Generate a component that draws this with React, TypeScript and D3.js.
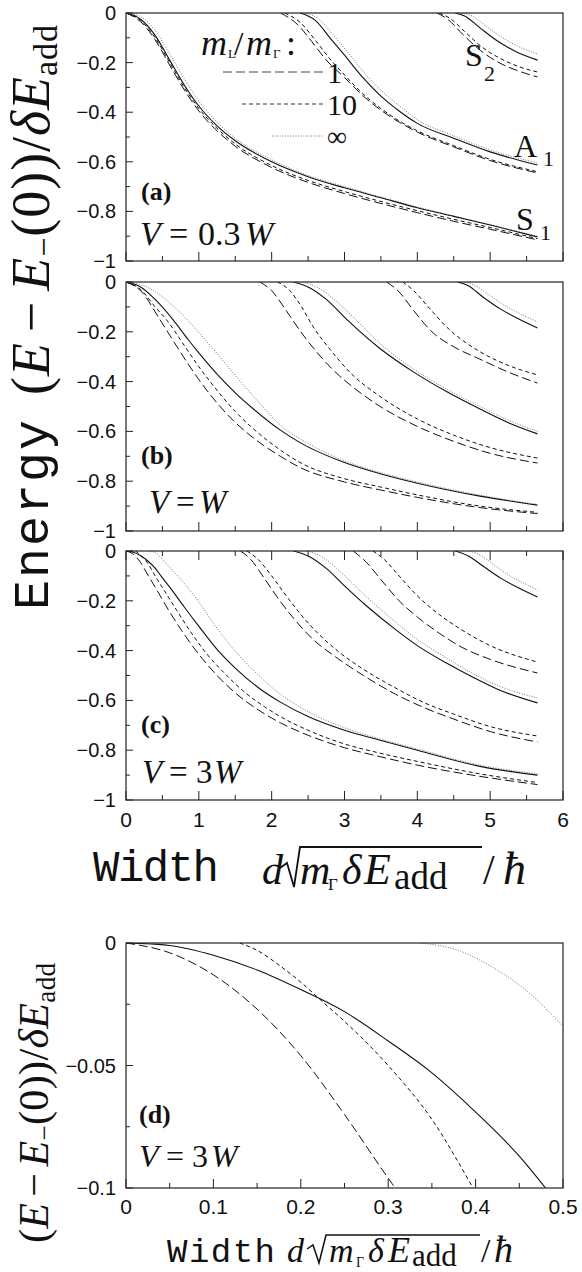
import React from "react";
import * as d3 from "d3";

type Pt = [number, number];

// ---------------- Panel (a): V = 0.3W ----------------
const aS1Solid: Pt[] = [[0,0],[0.2,-0.025],[0.4,-0.09],[0.6,-0.19],[0.8,-0.29],[1.0,-0.375],[1.25,-0.455],[1.5,-0.515],[2.0,-0.6],[2.5,-0.66],[3.0,-0.705],[3.5,-0.745],[4.0,-0.785],[4.5,-0.82],[5.0,-0.855],[5.65,-0.903]];
const aS1Dot: Pt[] = [[0,0],[0.2,-0.015],[0.4,-0.07],[0.6,-0.165],[0.8,-0.265],[1.0,-0.355],[1.25,-0.44],[1.5,-0.505],[2.0,-0.592],[2.5,-0.655],[3.0,-0.7],[3.5,-0.742],[4.0,-0.782],[4.5,-0.818],[5.0,-0.853],[5.65,-0.9]];
const aS1Short: Pt[] = [[0,0],[0.2,-0.03],[0.4,-0.1],[0.6,-0.2],[0.8,-0.3],[1.0,-0.385],[1.25,-0.465],[1.5,-0.528],[2.0,-0.615],[2.5,-0.675],[3.0,-0.72],[3.5,-0.76],[4.0,-0.797],[4.5,-0.832],[5.0,-0.865],[5.65,-0.91]];
const aS1Long: Pt[] = [[0,0],[0.2,-0.035],[0.4,-0.108],[0.6,-0.21],[0.8,-0.31],[1.0,-0.395],[1.25,-0.475],[1.5,-0.537],[2.0,-0.623],[2.5,-0.683],[3.0,-0.728],[3.5,-0.768],[4.0,-0.805],[4.5,-0.84],[5.0,-0.872],[5.65,-0.915]];
const aA1Solid: Pt[] = [[2.39,0],[2.6,-0.03],[2.8,-0.1],[3.0,-0.17],[3.25,-0.26],[3.5,-0.335],[3.75,-0.395],[4.0,-0.445],[4.5,-0.505],[5.0,-0.56],[5.65,-0.613]];
const aA1Dot: Pt[] = [[2.45,0],[2.65,-0.025],[2.85,-0.09],[3.05,-0.16],[3.3,-0.25],[3.55,-0.325],[3.8,-0.385],[4.0,-0.43],[4.5,-0.495],[5.0,-0.552],[5.65,-0.605]];
const aA1Short: Pt[] = [[2.18,0],[2.4,-0.04],[2.6,-0.11],[2.8,-0.185],[3.0,-0.25],[3.25,-0.325],[3.5,-0.385],[3.75,-0.435],[4.0,-0.475],[4.5,-0.535],[5.0,-0.59],[5.65,-0.64]];
const aA1Long: Pt[] = [[2.12,0],[2.35,-0.045],[2.55,-0.115],[2.75,-0.19],[3.0,-0.26],[3.25,-0.333],[3.5,-0.392],[3.75,-0.44],[4.0,-0.48],[4.5,-0.54],[5.0,-0.595],[5.65,-0.645]];
const aS2Solid: Pt[] = [[4.52,0],[4.65,-0.012],[4.86,-0.06],[5.1,-0.113],[5.35,-0.155],[5.65,-0.19]];
const aS2Dot: Pt[] = [[4.6,0],[4.75,-0.012],[4.95,-0.055],[5.2,-0.105],[5.4,-0.137],[5.65,-0.165]];
const aS2Short: Pt[] = [[4.3,0],[4.45,-0.022],[4.65,-0.075],[4.9,-0.14],[5.15,-0.185],[5.4,-0.217],[5.65,-0.238]];
const aS2Long: Pt[] = [[4.27,0],[4.42,-0.026],[4.62,-0.085],[4.87,-0.152],[5.12,-0.2],[5.4,-0.235],[5.65,-0.258]];

// ---------------- Panel (b): V = W ----------------
const bS1Solid: Pt[] = [[0,0],[0.2,-0.02],[0.4,-0.07],[0.65,-0.153],[0.85,-0.23],[1.0,-0.285],[1.25,-0.37],[1.5,-0.445],[1.75,-0.51],[2.12,-0.595],[2.39,-0.645],[3.0,-0.725],[3.49,-0.77],[4.0,-0.808],[4.86,-0.86],[5.65,-0.896]];
const bS1Dot: Pt[] = [[0,0],[0.3,-0.022],[0.5,-0.06],[0.7,-0.11],[0.9,-0.17],[1.2,-0.27],[1.5,-0.375],[1.8,-0.475],[2.12,-0.575],[2.5,-0.648],[3.0,-0.718],[3.49,-0.765],[4.0,-0.803],[4.86,-0.856],[5.65,-0.893]];
const bS1Short: Pt[] = [[0,0],[0.2,-0.03],[0.4,-0.1],[0.56,-0.153],[0.8,-0.255],[1.0,-0.34],[1.25,-0.435],[1.5,-0.52],[1.75,-0.59],[2.12,-0.675],[2.39,-0.725],[3.0,-0.79],[3.49,-0.823],[4.0,-0.855],[4.86,-0.9],[5.65,-0.925]];
const bS1Long: Pt[] = [[0,0],[0.2,-0.035],[0.47,-0.153],[0.7,-0.26],[0.9,-0.35],[1.15,-0.45],[1.4,-0.535],[1.7,-0.615],[2.12,-0.7],[2.39,-0.745],[3.0,-0.803],[3.49,-0.835],[4.0,-0.865],[4.86,-0.906],[5.65,-0.93]];
const bA1Solid: Pt[] = [[2.3,0],[2.5,-0.02],[2.75,-0.07],[3.03,-0.15],[3.5,-0.27],[3.94,-0.36],[4.4,-0.44],[4.86,-0.51],[5.25,-0.565],[5.65,-0.61]];
const bA1Dot: Pt[] = [[2.42,0],[2.65,-0.025],[2.9,-0.08],[3.15,-0.15],[3.5,-0.25],[3.94,-0.348],[4.4,-0.43],[4.86,-0.5],[5.25,-0.555],[5.65,-0.6]];
const bA1Short: Pt[] = [[2.08,0],[2.25,-0.035],[2.4,-0.095],[2.57,-0.18],[2.8,-0.27],[3.1,-0.37],[3.49,-0.46],[4.0,-0.55],[4.5,-0.615],[5.0,-0.665],[5.65,-0.707]];
const bA1Long: Pt[] = [[1.84,0],[2.0,-0.035],[2.2,-0.115],[2.4,-0.2],[2.6,-0.275],[2.85,-0.355],[3.15,-0.43],[3.49,-0.5],[4.0,-0.58],[4.5,-0.64],[5.0,-0.688],[5.65,-0.727]];
const bS2Solid: Pt[] = [[4.55,0],[4.7,-0.015],[4.9,-0.06],[5.15,-0.11],[5.4,-0.15],[5.65,-0.185]];
const bS2Dot: Pt[] = [[4.65,0],[4.8,-0.015],[5.0,-0.055],[5.25,-0.103],[5.45,-0.133],[5.65,-0.16]];
const bS2Short: Pt[] = [[3.8,0],[3.95,-0.035],[4.15,-0.1],[4.4,-0.18],[4.86,-0.28],[5.25,-0.335],[5.65,-0.373]];
const bS2Long: Pt[] = [[3.58,0],[3.75,-0.04],[3.95,-0.115],[4.2,-0.2],[4.5,-0.26],[4.86,-0.31],[5.25,-0.362],[5.65,-0.406]];

// ---------------- Panel (c): V = 3W ----------------
const cS1Solid: Pt[] = [[0,0],[0.1,-0.005],[0.2,-0.019],[0.3,-0.04],[0.4,-0.069],[0.48,-0.1],[0.6,-0.145],[0.8,-0.225],[1.02,-0.31],[1.25,-0.395],[1.5,-0.47],[1.8,-0.545],[2.12,-0.607],[2.5,-0.665],[3.0,-0.72],[3.49,-0.76],[4.0,-0.8],[4.86,-0.865],[5.65,-0.9]];
const cS1Dot: Pt[] = [[0.336,0],[0.42,-0.01],[0.5,-0.034],[0.6,-0.065],[0.8,-0.13],[1.0,-0.205],[1.2,-0.29],[1.45,-0.385],[1.75,-0.48],[2.12,-0.575],[2.5,-0.645],[3.0,-0.71],[3.49,-0.755],[4.0,-0.795],[4.86,-0.86],[5.65,-0.895]];
const cS1Short: Pt[] = [[0.13,0],[0.2,-0.016],[0.3,-0.05],[0.4,-0.1],[0.55,-0.17],[0.7,-0.24],[0.9,-0.33],[1.1,-0.41],[1.35,-0.49],[1.6,-0.56],[1.9,-0.625],[2.12,-0.665],[2.5,-0.72],[3.0,-0.775],[3.49,-0.812],[4.0,-0.845],[4.86,-0.895],[5.65,-0.93]];
const cS1Long: Pt[] = [[0,0],[0.1,-0.013],[0.2,-0.046],[0.308,-0.1],[0.45,-0.17],[0.6,-0.245],[0.8,-0.335],[1.0,-0.415],[1.25,-0.5],[1.5,-0.57],[1.8,-0.635],[2.12,-0.69],[2.5,-0.74],[3.0,-0.79],[3.49,-0.826],[4.0,-0.86],[4.86,-0.905],[5.65,-0.938]];
const cA1Solid: Pt[] = [[2.3,0],[2.5,-0.02],[2.75,-0.07],[3.0,-0.14],[3.3,-0.22],[3.72,-0.32],[4.0,-0.38],[4.4,-0.45],[4.75,-0.505],[5.1,-0.555],[5.65,-0.61]];
const cA1Dot: Pt[] = [[2.49,0],[2.7,-0.025],[2.95,-0.085],[3.25,-0.17],[3.72,-0.29],[4.0,-0.355],[4.4,-0.43],[4.75,-0.49],[5.1,-0.54],[5.65,-0.59]];
const cA1Short: Pt[] = [[1.66,0],[1.8,-0.03],[2.0,-0.1],[2.2,-0.18],[2.4,-0.255],[2.6,-0.32],[2.9,-0.4],[3.26,-0.475],[3.7,-0.55],[4.1,-0.61],[4.5,-0.655],[5.0,-0.705],[5.65,-0.743]];
const cA1Long: Pt[] = [[1.57,0],[1.7,-0.03],[1.9,-0.11],[2.1,-0.195],[2.3,-0.27],[2.55,-0.35],[2.9,-0.43],[3.26,-0.5],[3.7,-0.575],[4.1,-0.63],[4.5,-0.675],[5.0,-0.725],[5.65,-0.767]];
const cS2Short: Pt[] = [[3.39,0],[3.55,-0.035],[3.75,-0.1],[4.0,-0.18],[4.3,-0.255],[4.6,-0.315],[5.0,-0.38],[5.65,-0.446]];
const cS2Long: Pt[] = [[3.12,0],[3.3,-0.045],[3.5,-0.115],[3.75,-0.2],[4.0,-0.265],[4.3,-0.33],[4.6,-0.385],[5.0,-0.435],[5.65,-0.49]];
const cS2Solid: Pt[] = [[4.52,0],[4.7,-0.02],[4.9,-0.06],[5.15,-0.11],[5.4,-0.15],[5.65,-0.185]];
const cS2Dot: Pt[] = [[4.72,0],[4.88,-0.02],[5.05,-0.055],[5.3,-0.105],[5.5,-0.135],[5.65,-0.157]];

// ---------------- Panel (d): V = 3W, zoom ----------------
const dSolid: Pt[] = [[0,0],[0.05,-0.001],[0.1,-0.005],[0.15,-0.011],[0.2,-0.019],[0.25,-0.028],[0.3,-0.04],[0.35,-0.053],[0.4,-0.069],[0.45,-0.087],[0.48,-0.1]];
const dShort: Pt[] = [[0.13,0],[0.15,-0.003],[0.175,-0.009],[0.2,-0.016],[0.225,-0.024],[0.25,-0.032],[0.3,-0.05],[0.35,-0.072],[0.397,-0.1]];
const dLong: Pt[] = [[0,0],[0.05,-0.004],[0.1,-0.013],[0.15,-0.027],[0.2,-0.046],[0.25,-0.07],[0.3,-0.096],[0.308,-0.1]];
const dDot: Pt[] = [[0.336,0],[0.38,-0.003],[0.42,-0.01],[0.46,-0.02],[0.5,-0.034]];

// ---------------- Ticks ----------------
const xMajorTop = [0, 1, 2, 3, 4, 5, 6];
const xMinorTop = [0.5, 1.5, 2.5, 3.5, 4.5, 5.5];
const yMajorTop = [0, -0.2, -0.4, -0.6, -0.8, -1];
const yMinorTop = [-0.1, -0.3, -0.5, -0.7, -0.9];
const yLabelsTop = ["0", "\u22120.2", "\u22120.4", "\u22120.6", "\u22120.8", "\u22121"];
const xMajorD = [0, 0.1, 0.2, 0.3, 0.4, 0.5];
const xMinorD = [0.05, 0.15, 0.25, 0.35, 0.45];
const yMajorD = [0, -0.05, -0.1];
const yMinorD = [-0.025, -0.075];
const yLabelsD = ["0", "\u22120.05", "\u22120.1"];
const xLabelsD = ["0", "0.1", "0.2", "0.3", "0.4", "0.5"];

type Style = "solid" | "dot" | "short" | "long";
const styles: Record<Style, { stroke: string; w: number; dash?: string }> = {
  solid: { stroke: "#111", w: 1.1 },
  dot: { stroke: "#666", w: 0.9, dash: "1,1.6" },
  short: { stroke: "#111", w: 1, dash: "4,3" },
  long: { stroke: "#111", w: 1, dash: "9,4" },
};

const X0 = 126, X1 = 563;
const SERIF = "'Liberation Serif', 'DejaVu Serif', serif";
const SANS = "'Liberation Sans', Arial, sans-serif";
const MONO = "'Liberation Mono', 'DejaVu Sans Mono', monospace";

type Curve = { data: Pt[]; s: Style };

function Panel(props: {
  id: string; top: number; bottom: number; xDom: [number, number]; yDom: [number, number];
  xMajor: number[]; xMinor: number[]; yMajor: number[]; yMinor: number[]; yLabels: string[];
  curves: Curve[]; topTicks?: boolean;
}) {
  const { id, top, bottom, xDom, yDom, xMajor, xMinor, yMajor, yMinor, yLabels, curves, topTicks } = props;
  const x = d3.scaleLinear().domain(xDom).range([X0, X1]);
  const y = d3.scaleLinear().domain(yDom).range([top, bottom]);
  const line = d3.line<Pt>().x((d) => x(d[0])).y((d) => y(d[1])).curve(d3.curveMonotoneX);
  return (
    <g>
      <defs>
        <clipPath id={id}>
          <rect x={X0} y={top} width={X1 - X0} height={bottom - top} />
        </clipPath>
      </defs>
      <g clipPath={`url(#${id})`}>
        {curves.map((c, i) => (
          <path key={i} d={line(c.data) || ""} fill="none" stroke={styles[c.s].stroke}
            strokeWidth={styles[c.s].w} strokeDasharray={styles[c.s].dash} />
        ))}
      </g>
      <rect x={X0} y={top} width={X1 - X0} height={bottom - top} fill="none" stroke="#222" strokeWidth={1.2} />
      {xMajor.map((t, i) => (
        <line key={"xM" + i} x1={x(t)} x2={x(t)} y1={bottom} y2={bottom - 9} stroke="#222" />
      ))}
      {xMinor.map((t, i) => (
        <line key={"xm" + i} x1={x(t)} x2={x(t)} y1={bottom} y2={bottom - 5} stroke="#222" />
      ))}
      {topTicks && xMajor.map((t, i) => (
        <line key={"tM" + i} x1={x(t)} x2={x(t)} y1={top} y2={top + 9} stroke="#222" />
      ))}
      {topTicks && xMinor.map((t, i) => (
        <line key={"tm" + i} x1={x(t)} x2={x(t)} y1={top} y2={top + 5} stroke="#222" />
      ))}
      {yMajor.map((t, i) => (
        <line key={"yM" + i} x1={X0} x2={X0 + 7} y1={y(t)} y2={y(t)} stroke="#222" />
      ))}
      {yMinor.map((t, i) => (
        <line key={"ym" + i} x1={X0} x2={X0 + 4} y1={y(t)} y2={y(t)} stroke="#222" />
      ))}
      {yMajor.map((t, i) => (
        <text key={"yl" + i} x={116} y={y(t)} dy="0.35em" textAnchor="end" fontFamily={SANS} fontSize={20} fill="#111">
          {yLabels[i]}
        </text>
      ))}
    </g>
  );
}

function VLabel(props: { x: number; y: number; parts: { t: string; it?: boolean; x: number }[]; fs: number }) {
  return (
    <text y={props.y} fontFamily={SERIF} fontSize={props.fs} fill="#111">
      {props.parts.map((p, i) => (
        <tspan key={i} x={p.x} fontStyle={p.it ? "italic" : "normal"}>{p.t}</tspan>
      ))}
    </text>
  );
}

export default function App() {
  const curvesA: Curve[] = [
    { data: aS1Dot, s: "dot" }, { data: aS1Solid, s: "solid" }, { data: aS1Short, s: "short" }, { data: aS1Long, s: "long" },
    { data: aA1Dot, s: "dot" }, { data: aA1Solid, s: "solid" }, { data: aA1Short, s: "short" }, { data: aA1Long, s: "long" },
    { data: aS2Dot, s: "dot" }, { data: aS2Solid, s: "solid" }, { data: aS2Short, s: "short" }, { data: aS2Long, s: "long" },
  ];
  const curvesB: Curve[] = [
    { data: bS1Dot, s: "dot" }, { data: bS1Solid, s: "solid" }, { data: bS1Short, s: "short" }, { data: bS1Long, s: "long" },
    { data: bA1Dot, s: "dot" }, { data: bA1Solid, s: "solid" }, { data: bA1Short, s: "short" }, { data: bA1Long, s: "long" },
    { data: bS2Dot, s: "dot" }, { data: bS2Solid, s: "solid" }, { data: bS2Short, s: "short" }, { data: bS2Long, s: "long" },
  ];
  const curvesC: Curve[] = [
    { data: cS1Dot, s: "dot" }, { data: cS1Solid, s: "solid" }, { data: cS1Short, s: "short" }, { data: cS1Long, s: "long" },
    { data: cA1Dot, s: "dot" }, { data: cA1Solid, s: "solid" }, { data: cA1Short, s: "short" }, { data: cA1Long, s: "long" },
    { data: cS2Dot, s: "dot" }, { data: cS2Solid, s: "solid" }, { data: cS2Short, s: "short" }, { data: cS2Long, s: "long" },
  ];
  const curvesD: Curve[] = [
    { data: dDot, s: "dot" }, { data: dSolid, s: "solid" }, { data: dShort, s: "short" }, { data: dLong, s: "long" },
  ];
  const xTop = d3.scaleLinear().domain([0, 6]).range([X0, X1]);
  const xD = d3.scaleLinear().domain([0, 0.5]).range([X0, X1]);

  return (
    <svg width={582} height={1272} viewBox="0 0 582 1272"
      style={{ position: "absolute", left: 0, top: 0, background: "#fff" }}>
      <rect x={0} y={0} width={582} height={1272} fill="#fff" />
      <Panel id="ca" top={13} bottom={261} xDom={[0, 6]} yDom={[0, -1]} xMajor={xMajorTop} xMinor={xMinorTop}
        yMajor={yMajorTop} yMinor={yMinorTop} yLabels={yLabelsTop} curves={curvesA} />
      <Panel id="cb" top={282} bottom={531} xDom={[0, 6]} yDom={[0, -1]} xMajor={xMajorTop} xMinor={xMinorTop}
        yMajor={yMajorTop} yMinor={yMinorTop} yLabels={yLabelsTop} curves={curvesB} />
      <Panel id="cc" top={551} bottom={800} xDom={[0, 6]} yDom={[0, -1]} xMajor={xMajorTop} xMinor={xMinorTop}
        yMajor={yMajorTop} yMinor={yMinorTop} yLabels={yLabelsTop} curves={curvesC} topTicks />
      <Panel id="cd" top={943} bottom={1188} xDom={[0, 0.5]} yDom={[0, -0.1]} xMajor={xMajorD} xMinor={xMinorD}
        yMajor={yMajorD} yMinor={yMinorD} yLabels={yLabelsD} curves={curvesD} />

      {/* x tick labels */}
      {xMajorTop.map((t, i) => (
        <text key={"xt" + i} x={xTop(t)} y={827} textAnchor="middle" fontFamily={SANS} fontSize={21} fill="#111">{String(t)}</text>
      ))}
      {xMajorD.map((t, i) => (
        <text key={"xd" + i} x={xD(t)} y={1214} textAnchor="middle" fontFamily={SANS} fontSize={21} fill="#111">{xLabelsD[i]}</text>
      ))}

      {/* legend in (a) */}
      <text y={55} fontFamily={SERIF} fontSize={36} fill="#111">
        <tspan x={201} fontStyle="italic">m</tspan>
        <tspan x={228} dy={3} fontSize={13}>L</tspan>
        <tspan x={234} dy={-3} fontSize={34}>/</tspan>
        <tspan x={246} fontStyle="italic">m</tspan>
        <tspan x={273} dy={3} fontSize={13}>Γ</tspan>
        <tspan x={286} dy={-3}>:</tspan>
      </text>
      <line x1={223} x2={323} y1={72} y2={72} stroke="#444" strokeWidth={1} strokeDasharray="9,4" />
      <line x1={242} x2={323} y1={104} y2={104} stroke="#333" strokeWidth={1} strokeDasharray="4,3" />
      <line x1={272} x2={323} y1={136} y2={136} stroke="#666" strokeWidth={0.9} strokeDasharray="1,1.6" />
      <text x={327} y={83} fontFamily={SERIF} fontSize={30} fill="#111">1</text>
      <text x={327} y={115} fontFamily={SERIF} fontSize={30} fill="#111">10</text>
      <text x={327} y={146} fontFamily={SERIF} fontSize={28} fill="#111">∞</text>

      {/* band labels */}
      <text fontFamily={SERIF} fill="#111">
        <tspan x={514} y={157} fontSize={32}>A</tspan>
        <tspan x={543} y={166} fontSize={22}>1</tspan>
      </text>
      <text fontFamily={SERIF} fill="#111">
        <tspan x={516} y={230} fontSize={32}>S</tspan>
        <tspan x={540} y={240} fontSize={22}>1</tspan>
      </text>
      <text fontFamily={SERIF} fill="#111">
        <tspan x={465} y={66} fontSize={32}>S</tspan>
        <tspan x={484} y={81} fontSize={22}>2</tspan>
      </text>

      {/* panel labels */}
      <text x={141} y={200} fontFamily={SERIF} fontWeight="bold" fontSize={26} fill="#111">(a)</text>
      <text x={141} y={464} fontFamily={SERIF} fontWeight="bold" fontSize={26} fill="#111">(b)</text>
      <text x={141} y={733} fontFamily={SERIF} fontWeight="bold" fontSize={26} fill="#111">(c)</text>
      <text x={139} y={1123} fontFamily={SERIF} fontWeight="bold" fontSize={26} fill="#111">(d)</text>

      <VLabel y={245} fs={34} parts={[{ t: "V", it: true, x: 140 }, { t: "=", x: 169 }, { t: "0.3", x: 198 }, { t: "W", it: true, x: 245 }]} />
      <VLabel y={513} fs={33} parts={[{ t: "V", it: true, x: 149 }, { t: "=", x: 176 }, { t: "W", it: true, x: 199 }]} />
      <VLabel y={783} fs={33} parts={[{ t: "V", it: true, x: 142 }, { t: "=", x: 169 }, { t: "3", x: 196 }, { t: "W", it: true, x: 214 }]} />
      <VLabel y={1167} fs={32} parts={[{ t: "V", it: true, x: 139 }, { t: "=", x: 166 }, { t: "3", x: 192 }, { t: "W", it: true, x: 211 }]} />

      {/* y axis title (a-c) */}
      <text transform="translate(49,210) rotate(-90)" textAnchor="middle" fontFamily={SERIF} fontSize={54} fill="#111"
        textLength={370} lengthAdjust="spacing">
        (<tspan fontStyle="italic">E</tspan><tspan dx={10}>−</tspan><tspan dx={10} fontStyle="italic">E</tspan><tspan dy={6} fontSize={34}>−</tspan><tspan dy={-6}>(0))/</tspan><tspan fontStyle="italic">δE</tspan><tspan dy={8} fontSize={34}>add</tspan>
      </text>
      <text transform="translate(48,515) rotate(-90)" textAnchor="middle" fontFamily={MONO} fontSize={50} fill="#111"
        textLength={190} lengthAdjust="spacing">Energy</text>

      {/* x axis title (a-c) */}
      <text x={93} y={881} fontFamily={MONO} fontSize={44} fill="#111" textLength={126} lengthAdjust="spacing">Width</text>
      <text fontFamily={SERIF} fill="#111">
        <tspan x={262} y={884} fontSize={42} fontStyle="italic">d</tspan>
        <tspan x={300} y={884} fontSize={42} fontStyle="italic">m</tspan>
        <tspan x={328} y={890} fontSize={17}>Γ</tspan>
        <tspan x={342} y={884} fontSize={42} fontStyle="italic">δ</tspan>
        <tspan x={364} y={884} fontSize={44} fontStyle="italic">E</tspan>
        <tspan x={394} y={889} fontSize={37}>add</tspan>
        <tspan x={483} y={884} fontSize={42}>/</tspan>
        <tspan x={503} y={884} fontSize={46} fontStyle="italic">ħ</tspan>
      </text>
      <path d="M280,868 L287,863 L294,887 L300,847 L482,847" fill="none" stroke="#111" strokeWidth={1.8} />

      {/* panel (d) titles */}
      <text transform="translate(48,1103) rotate(-90)" textAnchor="middle" fontFamily={SERIF} fontSize={42} fill="#111"
        textLength={280} lengthAdjust="spacing">
        (<tspan fontStyle="italic">E</tspan><tspan dx={6}>−</tspan><tspan dx={6} fontStyle="italic">E</tspan><tspan dy={5} fontSize={27}>−</tspan><tspan dy={-5}>(0))/</tspan><tspan fontStyle="italic">δE</tspan><tspan dy={7} fontSize={27}>add</tspan>
      </text>
      <text x={167} y={1262} fontFamily={MONO} fontSize={34} fill="#111" textLength={108} lengthAdjust="spacing">Width</text>
      <text fontFamily={SERIF} fill="#111">
        <tspan x={287} y={1262} fontSize={34} fontStyle="italic">d</tspan>
        <tspan x={329} y={1262} fontSize={34} fontStyle="italic">m</tspan>
        <tspan x={356} y={1267} fontSize={14}>Γ</tspan>
        <tspan x={368} y={1262} fontSize={34} fontStyle="italic">δ</tspan>
        <tspan x={388} y={1262} fontSize={36} fontStyle="italic">E</tspan>
        <tspan x={412} y={1266} fontSize={31}>add</tspan>
        <tspan x={481} y={1262} fontSize={34}>/</tspan>
        <tspan x={494} y={1262} fontSize={38} fontStyle="italic">ħ</tspan>
      </text>
      <path d="M307,1249 L313,1245 L319,1263 L326,1235 L480,1235" fill="none" stroke="#111" strokeWidth={1.5} />
    </svg>
  );
}
